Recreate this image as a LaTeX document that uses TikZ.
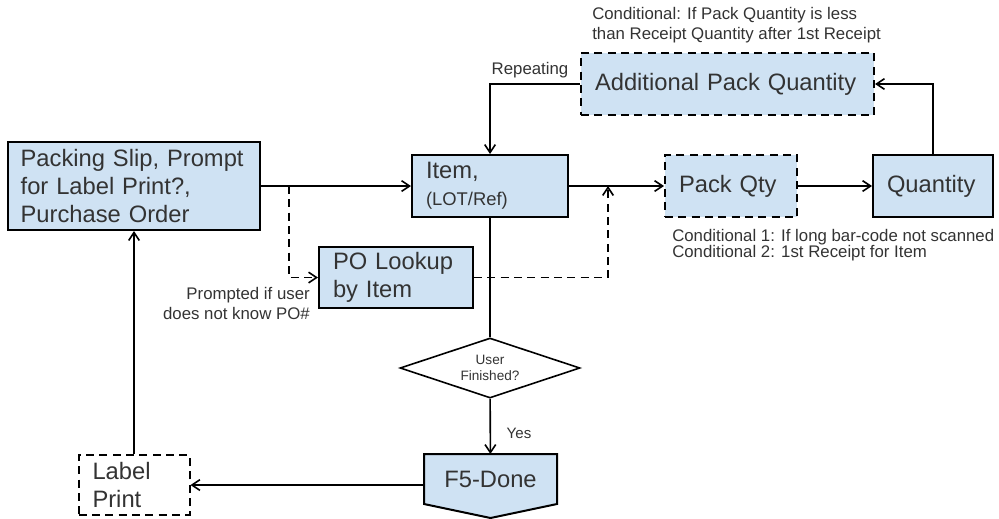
\documentclass[tikz,border=0pt]{standalone}
\usepackage{fontspec}
\setmainfont{Liberation Sans}
\usetikzlibrary{arrows.meta,shapes.geometric,backgrounds}
\definecolor{boxblue}{HTML}{CFE2F3}
\definecolor{inkgray}{HTML}{333333}
\tikzset{
  flowbox/.style={draw, fill=boxblue, line width=1.5pt, text=inkgray, align=left,
    font=\fontsize{17.8}{21}\selectfont, inner xsep=10.5pt, inner ysep=0pt},
  dashbox/.style={flowbox, dash pattern=on 6pt off 4pt},
  decision/.style={draw, diamond, fill=white, line width=1.2pt, aspect=3, inner sep=0pt,
    minimum width=135pt, minimum height=45pt, text=inkgray, align=center,
    font=\fontsize{10.2}{12.5}\selectfont},
  note/.style={text=inkgray, font=\fontsize{12.6}{15}\selectfont, inner sep=0pt},
  flow/.style={line width=1.2pt, -{Straight Barb[length=6pt,width=8pt]}},
  dashflow/.style={flow, dash pattern=on 6pt off 4pt},
}
\begin{document}
\begin{tikzpicture}[x=0.75pt, y=-0.75pt]
  \useasboundingbox (0,0) rectangle (999,518);
  % boxes
  \node[flowbox, inner xsep=9.5pt, text width=170pt, minimum height=66pt] (packing) at (134,186)
    {Packing Slip, Prompt\\for Label Print?,\\Purchase Order};
  \node[flowbox, text width=96pt, minimum height=46.5pt] (item) at (490,186)
    {Item,\\[-1pt]{\fontsize{13.8}{16}\selectfont(LOT/Ref)}};
  \node[flowbox, text width=94.5pt, minimum height=45.75pt] (po) at (396,277.5)
    {PO Lookup\\by Item};
  \node[dashbox, text width=198.75pt, minimum height=46.5pt] (additional) at (727.5,84)
    {Additional Pack Quantity};
  \node[dashbox, text width=78pt, minimum height=46.5pt] (packqty) at (731,186) {Pack Qty};
  \node[flowbox, text width=69pt, minimum height=46.5pt] (quantity) at (933,186) {Quantity};
  \node[dashbox, fill=white, text width=62.25pt, minimum height=45pt] (label) at (134,485)
    {Label\\Print};
  \node[decision] (finished) at (490,368) {User\\Finished?};
  \node[flowbox, draw=none, fill=none, align=center, minimum width=98.25pt,
    minimum height=36pt] (done) at (490.5,479) {F5-Done};
  \begin{scope}[on background layer]
    \filldraw[fill=boxblue, line width=1.5pt] (done.north west) -- (done.north east)
      -- (done.south east) -- ([yshift=-10.5pt]done.south) -- (done.south west) -- cycle;
  \end{scope}

  \coordinate (split) at (289,186);
  \coordinate (join) at (608,186);

  % texts
  \node[note, align=left, anchor=west] (condtop) at (592,25)
    {Conditional: If Pack Quantity is less\\than Receipt Quantity after 1st Receipt};
  \node[note, align=left, anchor=west, font=\fontsize{12.6}{12.5}\selectfont] (condpack) at (672,245)
    {Conditional 1: If long bar-code not scanned\\Conditional 2: 1st Receipt for Item};
  \node[note, align=right, anchor=east] (prompted) at (310,303)
    {Prompted if user\\does not know PO\#};
  \node[note] (repeating) at (530,70) {Repeating};
  \node[note, font=\fontsize{11.3}{13}\selectfont] (yes) at (519,433) {Yes};

  % connectors
  \draw[flow] (packing) -- (item);
  \draw[dashflow] (split) |- (po);
  \draw[dashflow] (po) -| (join);
  \draw[flow] (item) -- (packqty);
  \draw[flow] (packqty) -- (quantity);
  \draw[flow] (quantity) |- (additional);
  \draw[flow] (additional) -| (item);
  \draw[line width=1.2pt] (item) -- (finished);
  \draw[flow] (finished) -- (done);
  \draw[flow] (label -| done.west) -- (label);
  \draw[flow] (label) -- (packing);
\end{tikzpicture}
\end{document}
